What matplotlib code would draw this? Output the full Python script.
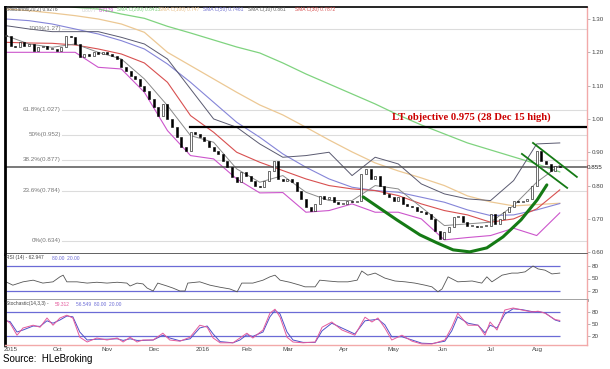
import numpy as np
import matplotlib.pyplot as plt

plt.rcParams['font.family'] = ['Liberation Sans', 'DejaVu Sans']

# closing prices, one bar per 2 trading days (Sep 2015 - mid Aug 2016)
close = [1.25, 1.22, 1.215, 1.23, 1.22, 1.225, 1.205, 1.215, 1.22, 1.21,
         1.21, 1.205, 1.215, 1.25, 1.245, 1.225, 1.185, 1.195, 1.19, 1.20,
         1.195, 1.20, 1.195, 1.19, 1.18, 1.155, 1.145, 1.13, 1.12, 1.10,
         1.085, 1.06, 1.035, 1.01, 1.045, 1.00, 0.975, 0.945, 0.915, 0.905,
         0.96, 0.955, 0.945, 0.935, 0.915, 0.905, 0.895, 0.875, 0.855, 0.825,
         0.81, 0.84, 0.83, 0.815, 0.80, 0.795, 0.815, 0.845, 0.875, 0.82,
         0.815, 0.82, 0.81, 0.785, 0.76, 0.735, 0.725, 0.745, 0.77, 0.76,
         0.765, 0.75, 0.745, 0.745, 0.755, 0.75, 0.755, 0.835, 0.85, 0.82,
         0.83, 0.80, 0.775, 0.765, 0.755, 0.765, 0.745, 0.74, 0.735, 0.725,
         0.72, 0.715, 0.70, 0.665, 0.64, 0.66, 0.675, 0.705, 0.71, 0.69,
         0.68, 0.68, 0.675, 0.68, 0.68, 0.715, 0.685, 0.70, 0.72, 0.735,
         0.755, 0.75, 0.755, 0.76, 0.80, 0.905, 0.875, 0.865, 0.845, 0.86,
         0.855]

# indicator values read every 5 bars
ma_x = list(range(0, 121, 5))
sma200 = [np.nan, np.nan, 1.345, 1.335, 1.33, 1.315, 1.302, 1.278, 1.258, 1.237,
          1.216, 1.198, 1.168, 1.135, 1.105, 1.075, 1.045, 1.012, 0.982, 0.955,
          0.928, 0.907, 0.886, 0.865, 0.841]
sma100 = [1.33, 1.325, 1.318, 1.31, 1.30, 1.285, 1.26, 1.20, 1.16, 1.12,
          1.08, 1.042, 1.012, 0.975, 0.937, 0.901, 0.868, 0.844, 0.823, 0.80,
          0.769, 0.751, 0.739, 0.743, 0.747]
sma50 = [1.30, 1.295, 1.285, 1.27, 1.255, 1.235, 1.21, 1.165, 1.11, 1.05,
         0.99, 0.945, 0.895, 0.855, 0.82, 0.795, 0.785, 0.78, 0.765, 0.75,
         0.727, 0.71, 0.712, 0.727, 0.746]
sma30 = [1.23, 1.228, 1.227, 1.222, 1.21, 1.195, 1.168, 1.11, 1.01, 0.96,
         0.90, 0.87, 0.845, 0.82, 0.80, 0.79, 0.785, 0.77, 0.745, 0.725,
         0.712, 0.69, 0.70, 0.73, 0.787]
sma10 = [1.25, 1.225, 1.215, 1.225, 1.20, 1.18, 1.12, 1.04, 0.95, 0.93,
         0.85, 0.81, 0.83, 0.78, 0.755, 0.755, 0.80, 0.79, 0.735, 0.68,
         0.685, 0.69, 0.74, 0.81, 0.861]
bb_upper = [1.28, 1.27, 1.262, 1.262, 1.262, 1.245, 1.225, 1.18, 1.09, 1.00,
            0.975, 0.925, 0.885, 0.89, 0.90, 0.83, 0.885, 0.865, 0.805, 0.775,
            0.76, 0.755, 0.815, 0.925, 0.928]
bb_lower = [1.20, 1.20, 1.20, 1.20, 1.155, 1.15, 1.08, 0.965, 0.89, 0.88,
            0.82, 0.778, 0.779, 0.72, 0.725, 0.745, 0.72, 0.72, 0.70, 0.637,
            0.644, 0.65, 0.672, 0.65, 0.718]

rsi_x = [0, 1.5, 3.7, 5.9, 8.0, 10.2, 11.7, 12.4, 13.2, 15.4, 17.6, 19.7, 21.9,
         24.1, 26.2, 26.9, 28.4, 29.7, 30.6, 31.9, 32.9, 34.9, 36.2, 37.7, 38.8,
         39.4, 42.0, 44.2, 46.4, 48.5, 50.1, 51.1, 53.5, 55.7, 57.2, 58.3, 59.4,
         61.5, 63.7, 64.8, 67.0, 68.0, 69.8, 71.9, 74.1, 76.1, 77.1, 78.4, 80.0,
         82.1, 84.3, 86.5, 88.6, 90.8, 92.3, 93.6, 94.5, 95.8, 97.9, 101.0,
         103.1, 104.2, 105.3, 107.5, 109.6, 110.9, 112.5, 114.2, 115.3, 116.8,
         118.3, 120.0]
rsi = [42, 34, 42, 46, 39, 42, 54, 58, 42, 42, 39, 41, 39,
       41, 39, 32, 39, 37, 27, 20, 39, 32, 27, 20, 20,
       39, 42, 34, 29, 25, 18, 39, 39, 46, 54, 58, 46,
       41, 34, 30, 30, 46, 44, 42, 42, 46, 68, 58, 63,
       51, 44, 42, 39, 34, 30, 18, 25, 54, 42, 44,
       39, 54, 42, 58, 63, 63, 66, 80, 73, 70,
       61, 63]

stoch_x = [0, 0.9, 2.4, 3.7, 5.9, 7.4, 8.9, 10.2, 11.7, 13.2, 14.5, 16.0, 17.6,
           19.7, 21.9, 24.1, 25.4, 26.9, 28.4, 29.7, 31.9, 34.0, 35.5, 37.7,
           39.9, 42.0, 43.6, 44.9, 46.4, 49.2, 50.7, 52.2, 53.5, 55.7, 57.2,
           58.3, 59.4, 60.9, 62.2, 64.4, 67.0, 68.5, 70.6, 72.8, 75.6, 77.8,
           79.3, 80.6, 82.1, 83.6, 85.8, 88.0, 90.1, 92.3, 95.1, 96.6, 97.9,
           100.1, 102.3, 103.8, 104.9, 106.4, 108.1, 109.9, 111.8, 114.0,
           115.3, 116.8, 119.0, 120.0]
stoch_k = [60, 52, 22, 40, 47, 42, 65, 47, 65, 72, 65, 17, 5,
           15, 10, 15, 5, 17, 5, 10, 10, 27, 10, 7,
           17, 47, 42, 15, 3, 3, 15, 27, 15, 35, 77,
           87, 67, 17, 5, 3, 5, 42, 55, 35, 22, 67,
           55, 65, 40, 10, 22, 7, 0, 0, 10, 42, 77,
           47, 47, 22, 55, 35, 85, 90, 85, 80,
           82, 77, 61, 59]
stoch_d = [58, 56, 30, 35, 45, 44, 58, 52, 60, 70, 68, 30, 10,
           12, 12, 13, 9, 13, 9, 9, 10, 22, 15, 8,
           13, 40, 45, 25, 6, 3, 10, 23, 19, 30, 68,
           84, 75, 30, 10, 4, 4, 33, 52, 40, 25, 58,
           60, 62, 48, 18, 18, 10, 2, 1, 7, 33, 68,
           52, 47, 28, 47, 40, 75, 88, 86, 81,
           81, 78, 60, 56.5]

fib_levels = [1.27, 1.027, 0.952, 0.877, 0.784, 0.634]
fib_labels = ["100%(1.27)", "61.8%(1.027)", "50%(0.952)", "38.2%(0.877)",
              "23.6%(0.784)", "0%(0.634)"]

cup_x = [77.4, 84.7, 89.7, 93.4, 96.9, 100.5, 104.2, 107.7, 111.6, 115.1, 117.2]
cup_y = [0.766, 0.697, 0.652, 0.628, 0.607, 0.601, 0.613, 0.646, 0.697, 0.757, 0.802]
chan_up_x, chan_up_y = [114.2, 123.7], [0.928, 0.826]
chan_lo_x, chan_lo_y = [111.8, 121.6], [0.895, 0.793]

month_pos = [1.1, 11.1, 21.9, 32.0, 42.7, 52.2, 61.1, 73.2, 84.0, 94.6, 105.0, 115.2]
month_labels = ["2015", "Oct", "Nov", "Dec", "2016", "Feb", "Mar", "Apr", "May",
                "Jun", "Jul", "Aug"]

W, H = 610, 369
fig = plt.figure(figsize=(W / 100, H / 100), dpi=100)


def box(top, bottom):
    return [5 / W, 1 - bottom / H, 582 / W, (bottom - top) / H]


ax = fig.add_axes(box(7, 254))
ax_rsi = fig.add_axes(box(254, 300))
ax_st = fig.add_axes(box(300, 345))
XMIN, XMAX = -0.2, 125.9
pink = '#f2a9a9'
blue = '#6b6bd6'

for a in (ax, ax_rsi, ax_st):
    a.set_xlim(XMIN, XMAX)
    a.spines['left'].set_color('black')
    a.spines['left'].set_linewidth(2)
    a.spines['right'].set_color(pink)
    a.spines['right'].set_linewidth(1)
    a.spines['top'].set_visible(False)
    a.yaxis.tick_right()
    a.tick_params(axis='y', length=2, width=0.5, color='#999', labelsize=4.5,
                  labelcolor='#444', pad=1.5)
    a.tick_params(axis='x', length=0)

ax.spines['top'].set_visible(True)
ax.spines['top'].set_color('black')
ax.spines['top'].set_linewidth(1.2)
ax.spines['bottom'].set_color('#555')
ax.spines['bottom'].set_linewidth(1.3)
ax_rsi.spines['bottom'].set_color('#999')
ax_rsi.spines['bottom'].set_linewidth(2)
ax_st.spines['bottom'].set_color(pink)
ax_st.spines['bottom'].set_linewidth(1)
ax.set_xticks([])
ax_rsi.set_xticks([])

# ---- main price panel
ax.set_ylim(0.5946, 1.336)
ax.set_yticks([0.6, 0.7, 0.8, 0.9, 1.0, 1.1, 1.2, 1.3])
ax.set_yticklabels(['0.60', '0.70', '0.80', '0.90', '1.00', '1.10', '1.20', '1.30'])

for lv, lb in zip(fib_levels, fib_labels):
    ax.plot([12.2, XMAX], [lv, lv], color='#dcdcdc', lw=0.8, zorder=1)
    ax.text(11.9, lv, lb, ha='right', va='center', fontsize=4.5, color='#777')

ax.plot(ma_x, sma200, color='#7fd37f', lw=0.9, zorder=2)
ax.plot(ma_x, sma100, color='#ecc894', lw=0.9, zorder=2)
ax.plot(ma_x, sma50, color='#8585d8', lw=0.8, zorder=2)
ax.plot(ma_x, sma30, color='#d85050', lw=0.8, zorder=2)
ax.plot(ma_x, sma10, color='#8a8a8a', lw=0.7, zorder=2)
ax.plot(ma_x, bb_upper, color='#5a5a70', lw=0.7, zorder=2)
ax.plot(ma_x, bb_lower, color='#cc55cc', lw=0.8, zorder=2)

c = np.array(close)
o = np.concatenate([[c[0]], c[:-1]])
x = np.arange(len(c))
body = np.maximum(np.abs(c - o), 0.003)
fill = np.where(c >= o, 'white', 'black')
ax.bar(x, body, bottom=np.minimum(o, c), width=0.42, color=fill,
       edgecolor='black', linewidth=0.4, zorder=3)

ax.axhline(0.855, color='#555', lw=1.1, zorder=2)
ax.plot([39.9, XMAX], [0.975, 0.975], color='black', lw=1.6, zorder=4)
ax.plot(cup_x, cup_y, color='#157a15', lw=2.2, zorder=4, solid_capstyle='round')
ax.plot(chan_up_x, chan_up_y, color='#157a15', lw=1.3, zorder=4)
ax.plot(chan_lo_x, chan_lo_y, color='#157a15', lw=1.3, zorder=4)
ax.text(83.6, 1.005, "LT objective 0.975 (28 Dec 15 high)", color='#cc0000',
        fontsize=7.7, fontweight='bold', family='Liberation Serif', va='center',
        ha='left', zorder=5)
ax.text(1.0, 0.855, '0.855', transform=ax.get_yaxis_transform(), fontsize=4.5,
        color='#222', va='center', ha='left', clip_on=False)

# ---- RSI panel
ax_rsi.set_ylim(-1.6, 108.8)
ax_rsi.set_yticks([20, 50, 80])
ax_rsi.hlines([80, 20], 0, 120, color=blue, lw=0.9)
ax_rsi.plot(rsi_x, rsi, color='#555', lw=0.6)

# ---- Stochastics panel
ax_st.set_ylim(-2.5, 110)
ax_st.set_yticks([20, 50, 80])
ax_st.hlines([80, 20], 0, 120, color=blue, lw=0.9)
ax_st.plot(stoch_x, stoch_d, color='#5050c8', lw=0.7)
ax_st.plot(stoch_x, stoch_k, color='#e45a9c', lw=0.7)
ax_st.set_xticks(month_pos)
ax_st.set_xticklabels(month_labels)
ax_st.tick_params(axis='x', labelsize=4.5, labelcolor='#444', pad=1.5)


def ftext(px, py, s, color, size=3.5):
    fig.text(px / W, 1 - py / H, s, color=color, fontsize=size, va='center', ha='left')


# legend strips
ftext(6, 10, "BollBands(20,2) 0.9276", '#555')
ftext(82, 10, "0.8077", '#d0d0d0')
ftext(99, 10, "0.7179", '#cc55cc')
ftext(117, 10, "SMA C(200) 0.8413", '#7fd37f')
ftext(159, 10, "SMA C(100) 0.747", '#e8c08a')
ftext(203, 10, "SMA C(50) 0.7461", '#7070d0')
ftext(248, 10, "SMA C(10) 0.861", '#666')
ftext(295, 10, "SMA C(30) 0.7872", '#d85050')
ftext(6, 258, "RSI (14) - 62.947", '#444')
ftext(52, 258, "80.00  20.00", blue)
ftext(6, 304, "Stochastic(14,3,3) -", '#444')
ftext(55, 304, "59.312", '#e45a9c')
ftext(76, 304, "56.549  80.00  20.00", blue)
ftext(3, 359, "Source:  HLeBroking", 'black', size=7)

fig.savefig('out.png', dpi=100)
